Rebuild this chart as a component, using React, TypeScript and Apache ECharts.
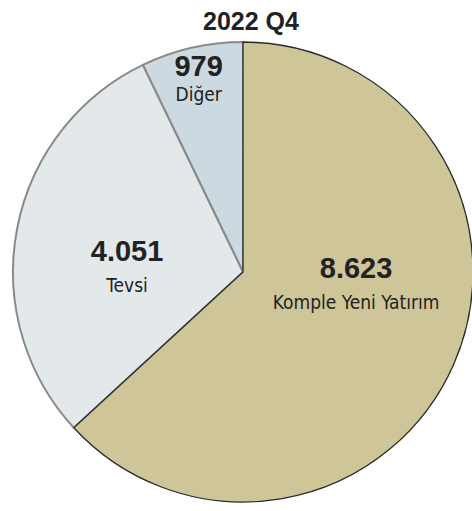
import React, { useEffect, useRef } from "react";
import * as echarts from "echarts";

const titleText = "2022 Q4";
const categories = ["Diğer", "Tevsi", "Komple Yeni Yatırım"];
const values = [979, 4051, 8623];
const displayValues = ["979", "4.051", "8.623"];
const colors = ["#cdd9e1", "#e3e8eb", "#cec598"];
const borderColors = ["#8a8a8a", "#8a8a8a", "#2a2a2a"];
const labelOffsets = [[-18, -77], [0, 18], [5, -34]];
const labelLineHeights = [28, 34, 34];

export default function App() {
  const ref = useRef<HTMLDivElement>(null);
  useEffect(() => {
    const chart = echarts.init(ref.current!, null, { renderer: "svg" });
    chart.setOption({
      animation: false,
      backgroundColor: "#ffffff",
      title: {
        text: titleText,
        left: 246,
        textAlign: "center",
        top: 3,
        textStyle: {
          fontFamily: "Liberation Sans, Arial, sans-serif",
          fontWeight: "bold",
          fontSize: 25,
          color: "#222222",
        },
      },
      series: [
        {
          type: "pie",
          center: [243, 272],
          radius: [0, 230],
          startAngle: 90,
          clockwise: false,
          silent: true,
          labelLine: { show: false },
          data: categories.map((name, i) => ({
            name,
            value: values[i],
            itemStyle: {
              color: colors[i],
              borderColor: borderColors[i],
              borderWidth: i === 2 ? 1.3 : 2,
            },
            label: {
              show: true,
              position: "inside",
              offset: labelOffsets[i],
              formatter: () => `{v|${displayValues[i]}}\n{n|${name}}`,
              rich: {
                v: {
                  fontFamily: "Liberation Sans, Arial, sans-serif",
                  fontWeight: "bold",
                  fontSize: 29,
                  lineHeight: labelLineHeights[i],
                  color: "#222222",
                  align: "center",
                },
                n: {
                  fontFamily: "DejaVu Sans Condensed, Liberation Sans, sans-serif",
                  fontSize: 19,
                  lineHeight: labelLineHeights[i],
                  color: "#222222",
                  align: "center",
                },
              },
            },
          })),
        },
      ],
    });
    return () => chart.dispose();
  }, []);
  return (
    <div
      ref={ref}
      style={{ position: "fixed", left: 0, top: 0, width: 472, height: 511 }}
    />
  );
}
